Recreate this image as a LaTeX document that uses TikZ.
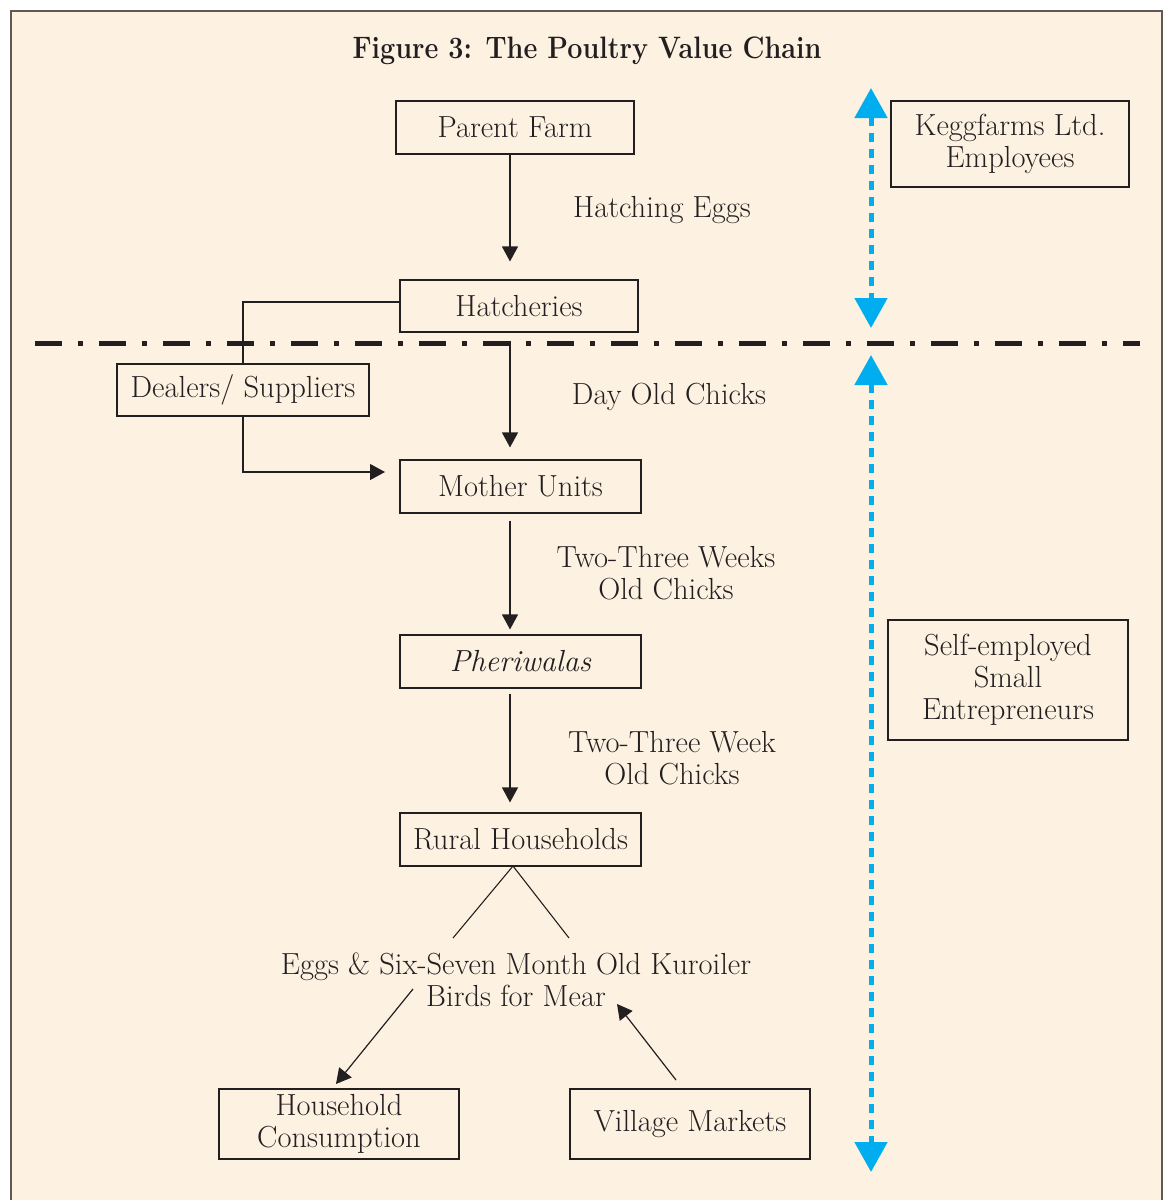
\documentclass[tikz,border=0pt]{standalone}
\usetikzlibrary{arrows.meta,calc}
\definecolor{cream}{HTML}{FDF2E2}
\definecolor{ink}{HTML}{231F20}
\definecolor{framec}{HTML}{5E5955}
\definecolor{sky}{HTML}{00AEEF}
\begin{document}
\begin{tikzpicture}[x=1pt,y=-1pt,
  box/.style={draw=ink,line width=1.1pt,inner sep=0pt,align=center,text=ink,font=\fontsize{30.5}{32}\selectfont},
  lbl/.style={inner sep=0pt,align=center,text=ink,font=\fontsize{30.5}{32}\selectfont},
  arr/.style={draw=ink,line width=1.2pt,-{Triangle[length=15pt,width=16pt]}},
  conn/.style={draw=ink,line width=1.1pt},
  bluearr/.style={draw=sky,line width=5pt,dash pattern=on 9pt off 7pt,
    {Triangle[length=30pt,width=32pt]}-{Triangle[length=30pt,width=32pt]}}
]
\useasboundingbox (0,0) rectangle (1165,1200);
\clip (0,0) rectangle (1165,1200);
\fill[white] (0,0) rectangle (1165,1200);
\filldraw[fill=cream,draw=framec,line width=1.6pt] (11,11) rectangle (1162,1230);

\node[inner sep=0pt,text=ink,font=\fontsize{31}{34}\selectfont\bfseries] (title) at (587,51) {\scalebox{0.87}[1]{Figure 3: The Poultry Value Chain}};

\node[box,minimum width=238pt,minimum height=53pt] (parent) at (515,127.5) {Parent Farm};
\node[box,minimum width=238pt,minimum height=52pt] (hatch) at (519,306) {Hatcheries};
\node[box,minimum width=252pt,minimum height=52pt] (dealer) at (243,390) {Dealers/ Suppliers};
\node[box,minimum width=241pt,minimum height=53pt] (mother) at (520.5,486.5) {Mother Units};
\node[box,minimum width=241pt,minimum height=53pt] (pheri) at (520.5,661.5) {\itshape Pheriwalas};
\node[box,minimum width=241pt,minimum height=53pt] (rural) at (520.5,839.5) {Rural Households};
\node[box,minimum width=240pt,minimum height=70pt] (house) at (339,1124) {Household\\Consumption};
\node[box,minimum width=240pt,minimum height=70pt] (village) at (690,1124) {Village Markets};
\node[box,minimum width=238pt,minimum height=86pt] (kegg) at (1010,144) {Keggfarms Ltd.\\Employees};
\node[box,minimum width=240pt,minimum height=120pt] (self) at (1008,680) {Self-employed\\Small\\Entrepreneurs};

\node[lbl] (l1) at (662,210) {Hatching Eggs};
\node[lbl] (l2) at (669,397) {Day Old Chicks};
\node[lbl] (l3) at (666,573) {Two-Three Weeks\\Old Chicks};
\node[lbl] (l4) at (672,758) {Two-Three Week\\Old Chicks};
\node[lbl] (eggs) at (516,980) {Eggs \& Six-Seven Month Old Kuroiler\\Birds for Mear};

% dash-dot separator
\coordinate (sepL) at (35,343);
\coordinate (sepR) at (1140,343);
\draw[ink,line width=5pt,dash pattern=on 27pt off 16pt on 5pt off 16pt] (sepL) -- (sepR);

% main chain
\coordinate (ax) at (510,0);
\draw[arr] (parent.south -| ax) -- ([yshift=18pt]hatch.north -| ax);
\draw[arr] ([yshift=-8pt]hatch.south -| ax) -- ([yshift=12pt]mother.north -| ax);
\draw[arr] ([yshift=-7pt]mother.south -| ax) -- ([yshift=5pt]pheri.north -| ax);
\draw[arr] ([yshift=-5pt]pheri.south -| ax) -- ([yshift=10pt]rural.north -| ax);

% dealers
\draw[conn] ([yshift=4pt]hatch.west) -| (dealer.north);
\coordinate (dtip) at (385,472);
\draw[arr] (dealer.south) |- (dtip);

% rural split
\coordinate (apex) at (513,866);
\coordinate (legL) at (453,938);
\coordinate (legR) at (569,938);
\draw[conn] (legL) -- (apex) -- (legR);
\coordinate (hs) at (413,989);
\coordinate (ht) at (336,1084);
\draw[arr] (hs) -- (ht);
\coordinate (vs) at (676,1080);
\coordinate (vt) at (617,1004);
\draw[arr] (vs) -- (vt);

% blue arrows
\coordinate (b1a) at (871,88);
\coordinate (b1b) at (871,328);
\coordinate (b2a) at (871,355);
\coordinate (b2b) at (871,1172);
\draw[bluearr] (b1a) -- (b1b);
\draw[bluearr] (b2a) -- (b2b);
\end{tikzpicture}
\end{document}
